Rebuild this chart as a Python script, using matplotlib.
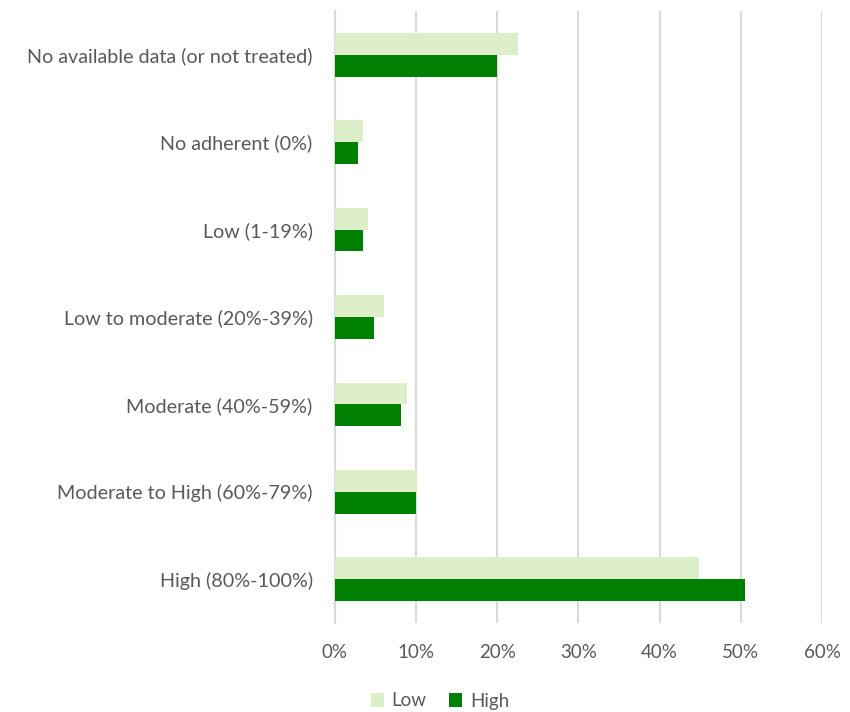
import matplotlib
matplotlib.use("Agg")
import matplotlib.pyplot as plt
import numpy as np
from matplotlib.ticker import PercentFormatter

categories = [
    "No available data (or not treated)",
    "No adherent (0%)",
    "Low (1-19%)",
    "Low to moderate (20%-39%)",
    "Moderate (40%-59%)",
    "Moderate to High (60%-79%)",
    "High (80%-100%)",
]
low_values = [0.225, 0.035, 0.041, 0.060, 0.089, 0.101, 0.449]
high_values = [0.200, 0.028, 0.035, 0.048, 0.082, 0.100, 0.505]
x_ticks = [0, 0.1, 0.2, 0.3, 0.4, 0.5, 0.6]

low_color = "#DDEFC9"
high_color = "#008000"
text_color = "#595959"
grid_color = "#D9D9D9"

plt.rcParams["font.family"] = ["Lato", "DejaVu Sans"]

fig = plt.figure(figsize=(8.5, 7.12), dpi=100)
ax = fig.add_axes([0.394, 0.125, 0.573, 0.8596])

y = np.arange(len(categories))
h = 0.25
ax.barh(y - h / 2, low_values, height=h, color=low_color, label="Low", zorder=3)
ax.barh(y + h / 2, high_values, height=h, color=high_color, label="High", zorder=3)

ax.set_ylim(len(categories) - 0.5, -0.5)
ax.set_yticks(y)
ax.set_yticklabels(categories, fontsize=14.2, color=text_color)
ax.set_xlim(0, 0.6)
ax.set_xticks(x_ticks)
ax.xaxis.set_major_formatter(PercentFormatter(1.0, decimals=0))
ax.tick_params(axis="x", length=0, pad=15, labelsize=13.5, labelcolor=text_color)
ax.tick_params(axis="y", length=0, pad=16)

ax.grid(axis="x", color=grid_color, linewidth=1.5, zorder=0)
for side in ["top", "right", "bottom"]:
    ax.spines[side].set_visible(False)
ax.spines["left"].set_color(grid_color)
ax.spines["left"].set_linewidth(1.5)

fig.legend(
    loc="center",
    bbox_to_anchor=(440 / 850, 1 - 701 / 712),
    ncol=2,
    frameon=False,
    fontsize=13.5,
    labelcolor=text_color,
    handlelength=0.7,
    handleheight=0.7,
    handletextpad=0.4,
    columnspacing=1.2,
)

fig.savefig("out.png", dpi=100)
